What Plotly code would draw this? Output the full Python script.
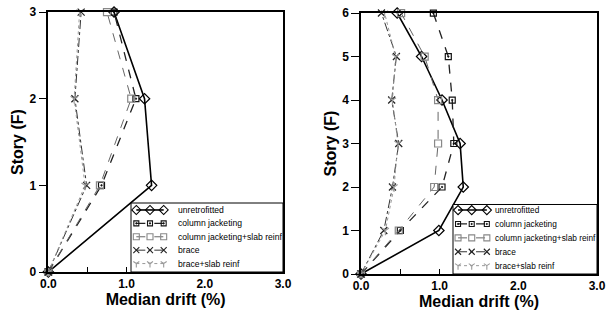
import plotly.graph_objects as go

# ---- data ----
series_names = ["unretrofitted", "column jacketing", "column jacketing+slab reinf", "brace", "brace+slab reinf"]

stories_3 = [0, 1, 2, 3]
drift3_unretro = [0.0, 1.32, 1.23, 0.84]
drift3_colj = [0.0, 0.68, 1.12, 0.84]
drift3_colj_slab = [0.0, 0.66, 1.06, 0.75]
drift3_brace = [0.0, 0.49, 0.34, 0.42]
drift3_brace_slab = [0.0, 0.47, 0.33, 0.40]

stories_6 = [0, 1, 2, 3, 4, 5, 6]
drift6_unretro = [0.0, 0.99, 1.30, 1.26, 1.03, 0.77, 0.46]
drift6_colj = [0.0, 0.50, 1.03, 1.18, 1.16, 1.11, 0.92]
drift6_colj_slab = [0.0, 0.48, 0.93, 0.98, 0.98, 0.81, 0.51]
drift6_brace = [0.0, 0.29, 0.40, 0.48, 0.39, 0.45, 0.26]
drift6_brace_slab = [0.0, 0.31, 0.42, 0.47, 0.40, 0.44, 0.30]

x_tick_vals = [0, 1, 2, 3]
x_tick_text = ["0.0", "1.0", "2.0", "3.0"]

styles = [
    dict(color="#000000", dash="solid", width=1.6, symbol="diamond-open", msize=8, mcolor="#000000"),
    dict(color="#222222", dash="dash", width=1.3, symbol="square-open-dot", msize=6, mcolor="#111111"),
    dict(color="#666666", dash="dash", width=1.0, symbol="square-open", msize=7, mcolor="#888888"),
    dict(color="#333333", dash="dashdot", width=1.0, symbol="x-thin-open", msize=7, mcolor="#222222"),
    dict(color="#999999", dash="dot", width=1.0, symbol="y-down-open", msize=6, mcolor="#999999"),
]

fig = go.Figure()

sets = [
    (stories_3, [drift3_unretro, drift3_colj, drift3_colj_slab, drift3_brace, drift3_brace_slab], "x", "y"),
    (stories_6, [drift6_unretro, drift6_colj, drift6_colj_slab, drift6_brace, drift6_brace_slab], "x2", "y2"),
]
for stories, drifts, xa, ya in sets:
    for name, d, st in zip(series_names, drifts, styles):
        fig.add_trace(go.Scatter(
            x=d, y=stories, name=name, mode="lines+markers",
            xaxis=xa, yaxis=ya, cliponaxis=False, showlegend=False,
            line=dict(color=st["color"], dash=st["dash"], width=st["width"]),
            marker=dict(symbol=st["symbol"], size=st["msize"], color=st["mcolor"],
                        line=dict(color=st["mcolor"], width=1.2)),
        ))

# ---- legend boxes (built on small overlay axes) ----
legend_specs = [
    # (xaxis, yaxis, sample x positions, text x, font size)
    ("x3", "y3", [0.035, 0.125, 0.215], 0.295, 8.6),
    ("x4", "y4", [0.035, 0.13, 0.235], 0.28, 8.3),
]
annotations = []
shapes = []
for xa, ya, sx, tx, fs in legend_specs:
    for i, (name, st) in enumerate(zip(series_names, styles)):
        fig.add_trace(go.Scatter(
            x=sx, y=[i] * len(sx), mode="lines+markers", xaxis=xa, yaxis=ya,
            showlegend=False, hoverinfo="skip", cliponaxis=False,
            line=dict(color=st["color"], dash=st["dash"], width=st["width"]),
            marker=dict(symbol=st["symbol"], size=st["msize"] - 1, color=st["mcolor"],
                        line=dict(color=st["mcolor"], width=1.1)),
        ))
        annotations.append(dict(
            text=name, xref=xa, yref=ya, x=tx, y=i, xanchor="left", yanchor="middle",
            showarrow=False, font=dict(family="Liberation Sans, Arial", size=fs, color="black")))
    shapes.append(dict(type="rect", xref=xa + " domain", yref=ya + " domain", x0=0, x1=1, y0=0, y1=1,
                       line=dict(color="black", width=1), layer="above"))

font_fam = "Liberation Sans, Arial, sans-serif"

def xaxis(domain, anchor):
    return dict(domain=domain, anchor=anchor, range=[0, 3], tickvals=x_tick_vals, ticktext=x_tick_text,
                ticks="inside", ticklen=5, tickwidth=1, tickcolor="black",
                minor=dict(dtick=0.5, tick0=0, ticks="inside", ticklen=5, tickcolor="black", showgrid=False),
                showline=True, linecolor="black", linewidth=1.5, mirror=True,
                showgrid=False, zeroline=False, automargin=False,
                tickfont=dict(family=font_fam, size=12, color="black", weight="bold"),
                title=dict(text="<b>Median drift (%)</b>", font=dict(family=font_fam, size=16, color="black"),
                           standoff=4))

def yaxis(domain, anchor, top):
    return dict(domain=domain, anchor=anchor, range=[0, top], dtick=1,
                ticks="outside", ticklen=8, tickwidth=1, tickcolor="black",
                showline=True, linecolor="black", linewidth=1.5, mirror=True,
                showgrid=False, zeroline=False, automargin=False,
                tickfont=dict(family=font_fam, size=12, color="black", weight="bold"),
                title=dict(text="<b>Story (F)</b>", font=dict(family=font_fam, size=16, color="black"),
                           standoff=2))

def hidden(domain, rng):
    return dict(domain=domain, range=rng, visible=False, showgrid=False, zeroline=False,
                fixedrange=True, automargin=False)

fig.update_layout(
    width=606, height=326,
    margin=dict(l=0, r=0, t=0, b=0),
    paper_bgcolor="white", plot_bgcolor="white",
    xaxis=xaxis([0.0797, 0.467], "y"),
    yaxis=yaxis([0.1656, 0.963], "x", 3),
    xaxis2=xaxis([0.5957, 0.9851], "y2"),
    yaxis2=yaxis([0.1595, 0.960], "x2", 6),
    xaxis3=dict(anchor="y3", **hidden([131 / 606, 283 / 606], [0, 1])),
    yaxis3=dict(anchor="x3", **hidden([0.1656, 0.3773], [4.63, -0.52])),
    xaxis4=dict(anchor="y4", **hidden([453 / 606, 597 / 606], [0, 1])),
    yaxis4=dict(anchor="x4", **hidden([0.1595, 0.3727], [4.6, -0.40])),
    annotations=annotations,
    shapes=shapes,
    showlegend=False,
)

fig.write_html("out.html", config={"displayModeBar": False},
               post_script="document.body.style.margin='0';document.body.style.overflow='hidden';")
